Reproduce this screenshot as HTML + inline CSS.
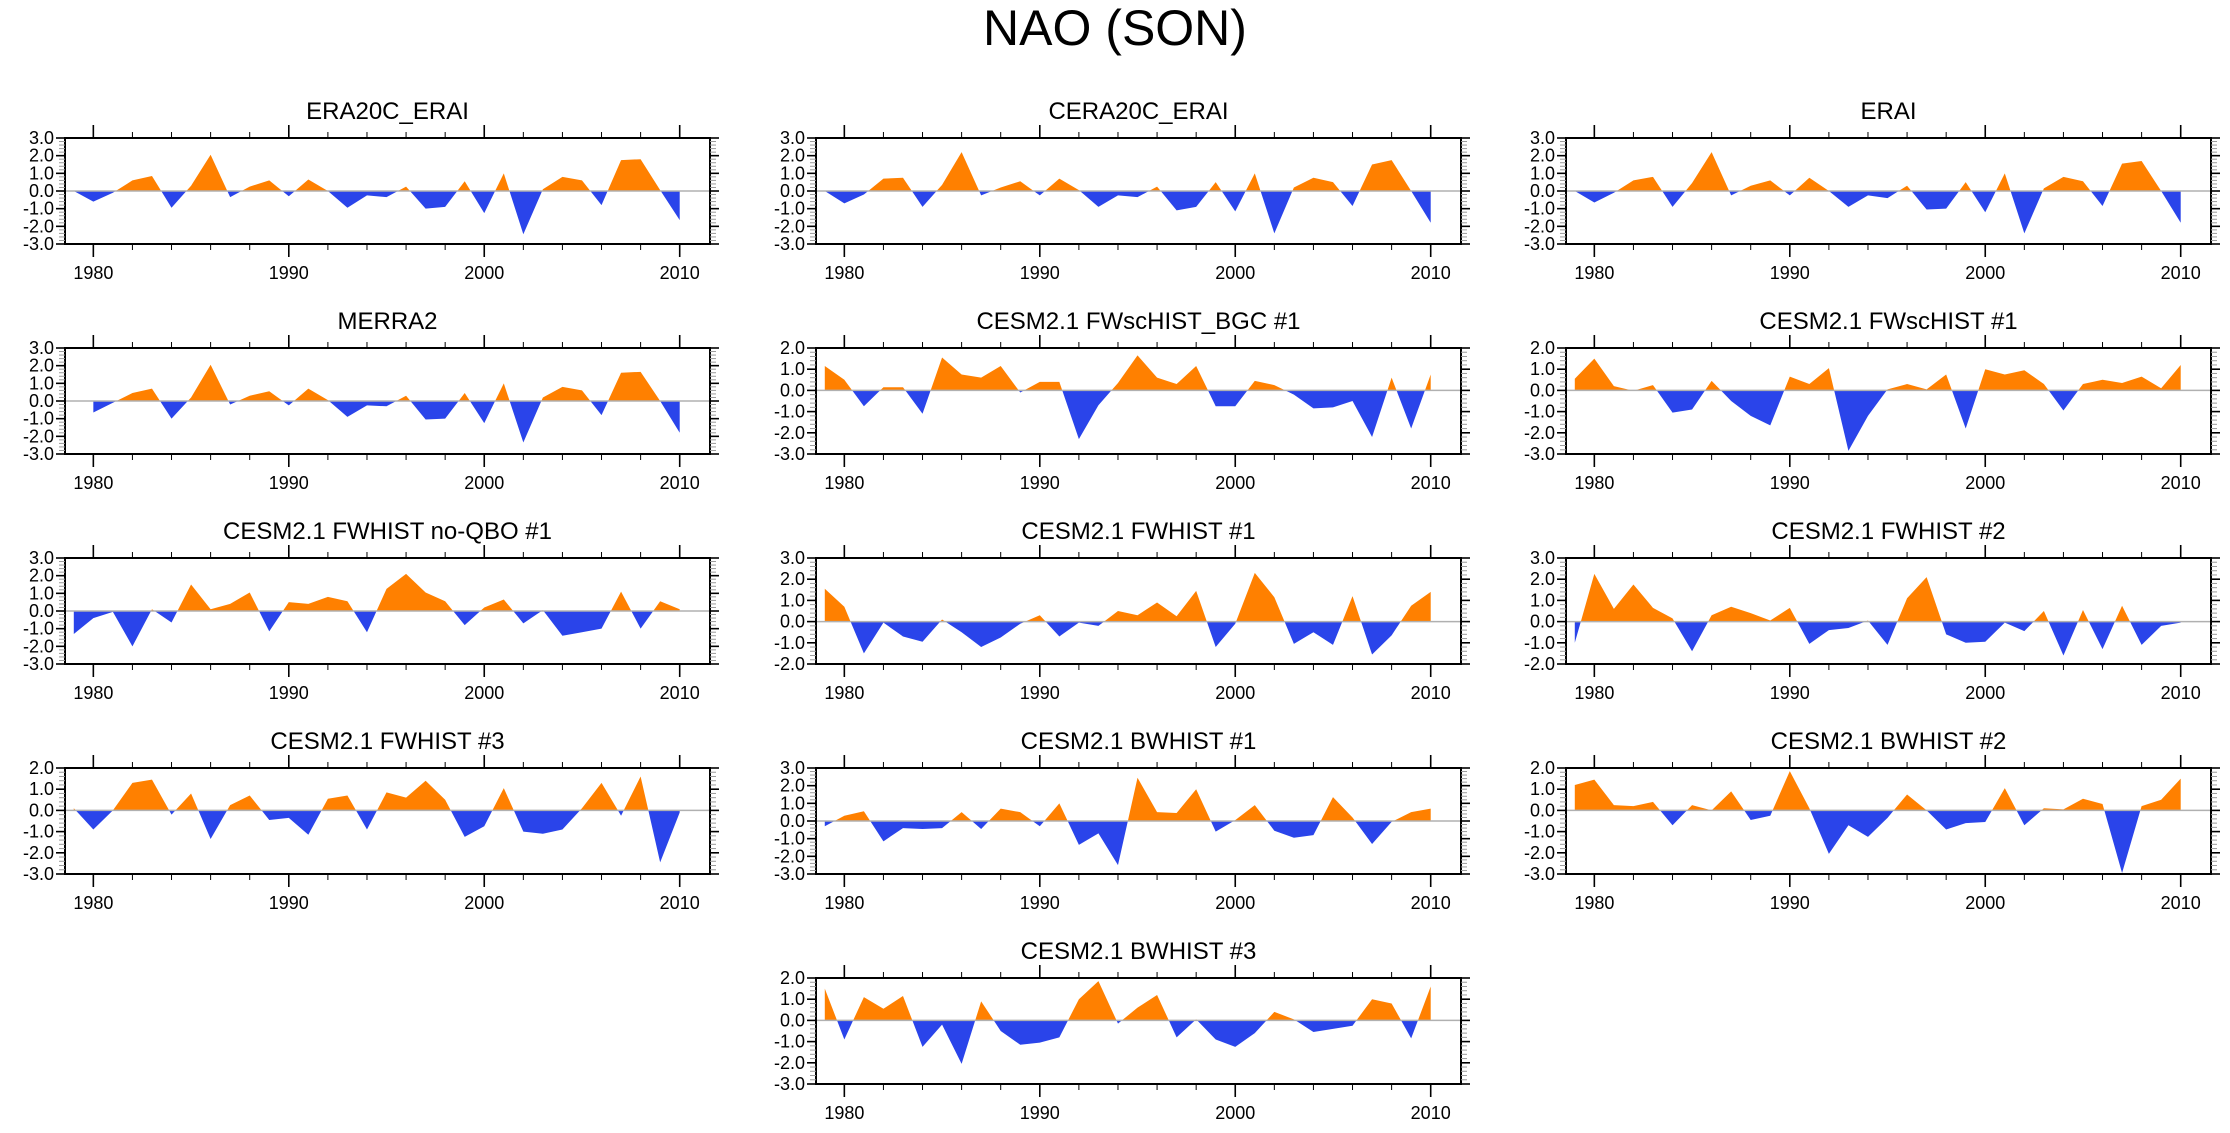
<!DOCTYPE html>
<html><head><meta charset="utf-8"><title>NAO (SON)</title>
<style>
html,body{margin:0;padding:0;background:#fff;}
svg{display:block;font-family:"Liberation Sans",sans-serif;}
</style></head>
<body>
<svg id="chart" width="2230" height="1133" viewBox="0 0 2230 1133" xmlns="http://www.w3.org/2000/svg">
<rect x="0" y="0" width="2230" height="1133" fill="#fff"/>
<text x="1115" y="32" font-size="50" text-anchor="middle" dominant-baseline="middle">NAO (SON)</text>
</svg>
<script>
const titles = ["ERA20C_ERAI","CERA20C_ERAI","ERAI","MERRA2","CESM2.1 FWscHIST_BGC #1","CESM2.1 FWscHIST #1","CESM2.1 FWHIST no-QBO #1","CESM2.1 FWHIST #1","CESM2.1 FWHIST #2","CESM2.1 FWHIST #3","CESM2.1 BWHIST #1","CESM2.1 BWHIST #2","CESM2.1 BWHIST #3"];
const startYears = [1979,1979,1979,1980,1979,1979,1979,1979,1979,1979,1979,1979,1979];
const yMins = [-3,-3,-3,-3,-3,-3,-3,-2,-2,-3,-3,-3,-3];
const yMaxs = [3,3,3,3,2,2,3,3,3,2,3,2,2];
const xTickLabels = [1980,1990,2000,2010];
const sEra20c = [0,-0.6,-0.1,0.6,0.85,-0.95,0.3,2.05,-0.35,0.25,0.6,-0.3,0.65,0.0,-0.95,-0.25,-0.35,0.25,-1.0,-0.9,0.55,-1.25,1.0,-2.45,0.1,0.8,0.6,-0.8,1.75,1.8,0.05,-1.65];
const sCera20c = [0,-0.7,-0.2,0.7,0.75,-0.9,0.35,2.2,-0.25,0.2,0.55,-0.25,0.7,0.05,-0.9,-0.25,-0.35,0.25,-1.1,-0.9,0.5,-1.15,1.0,-2.4,0.2,0.75,0.5,-0.85,1.5,1.75,0.0,-1.8];
const sErai = [0,-0.65,-0.1,0.6,0.8,-0.9,0.45,2.2,-0.25,0.3,0.6,-0.25,0.75,0.0,-0.9,-0.25,-0.4,0.3,-1.05,-1.0,0.5,-1.2,1.0,-2.4,0.15,0.8,0.55,-0.85,1.55,1.7,0.0,-1.8];
const sMerra2 = [-0.65,-0.1,0.45,0.7,-1.0,0.2,2.05,-0.2,0.3,0.55,-0.25,0.7,0.05,-0.9,-0.25,-0.3,0.3,-1.05,-1.0,0.45,-1.25,1.0,-2.35,0.2,0.8,0.6,-0.8,1.6,1.65,0.0,-1.8];
const sFWscBGC1 = [1.15,0.5,-0.75,0.15,0.15,-1.1,1.55,0.75,0.6,1.15,-0.1,0.4,0.4,-2.3,-0.7,0.35,1.65,0.6,0.3,1.15,-0.75,-0.75,0.45,0.25,-0.2,-0.85,-0.8,-0.5,-2.2,0.6,-1.8,0.75];
const sFWsc1 = [0.55,1.5,0.2,-0.02,0.25,-1.05,-0.9,0.45,-0.5,-1.2,-1.65,0.65,0.3,1.05,-2.85,-1.2,0.05,0.3,0.05,0.75,-1.8,1.0,0.75,0.95,0.3,-0.95,0.3,0.5,0.35,0.65,0.1,1.2];
const sFWnoQBO1 = [-1.3,-0.4,-0.05,-2.0,0.1,-0.65,1.5,0.1,0.4,1.05,-1.15,0.5,0.4,0.8,0.55,-1.2,1.25,2.1,1.05,0.55,-0.8,0.2,0.65,-0.7,0.05,-1.4,-1.2,-1.0,1.1,-1.0,0.55,0.1];
const sFW1 = [1.55,0.7,-1.5,-0.05,-0.7,-0.95,0.1,-0.5,-1.2,-0.75,-0.1,0.3,-0.7,-0.05,-0.2,0.5,0.3,0.9,0.25,1.45,-1.2,-0.1,2.3,1.15,-1.05,-0.5,-1.1,1.2,-1.55,-0.65,0.75,1.4];
const sFW2 = [-1.0,2.25,0.6,1.75,0.65,0.15,-1.4,0.3,0.7,0.4,0.05,0.65,-1.05,-0.4,-0.3,0.05,-1.1,1.1,2.1,-0.6,-1.0,-0.95,-0.05,-0.45,0.5,-1.6,0.55,-1.3,0.75,-1.1,-0.2,-0.05];
const sFW3 = [0.1,-0.9,0.0,1.3,1.45,-0.2,0.8,-1.35,0.25,0.7,-0.45,-0.35,-1.15,0.55,0.7,-0.9,0.85,0.6,1.4,0.5,-1.25,-0.75,1.05,-1.0,-1.1,-0.9,0.1,1.3,-0.25,1.6,-2.45,-0.1];
const sBW1 = [-0.3,0.3,0.55,-1.15,-0.4,-0.45,-0.4,0.5,-0.45,0.7,0.5,-0.3,1.0,-1.35,-0.7,-2.5,2.45,0.5,0.45,1.8,-0.6,0.05,0.9,-0.55,-0.95,-0.8,1.35,0.2,-1.3,-0.05,0.5,0.7];
const sBW2 = [1.2,1.45,0.25,0.2,0.4,-0.7,0.25,0.0,0.9,-0.45,-0.25,1.85,0.1,-2.05,-0.7,-1.25,-0.35,0.75,0.0,-0.9,-0.6,-0.55,1.05,-0.7,0.1,0.05,0.55,0.3,-2.95,0.2,0.5,1.5];
const sBW3 = [1.5,-0.9,1.1,0.55,1.15,-1.25,-0.2,-2.05,0.9,-0.5,-1.15,-1.05,-0.8,1.0,1.85,-0.15,0.6,1.2,-0.8,0.05,-0.9,-1.25,-0.6,0.4,0.05,-0.55,-0.4,-0.25,1.0,0.8,-0.85,1.6];
const seriesList = [sEra20c,sCera20c,sErai,sMerra2,sFWscBGC1,sFWsc1,sFWnoQBO1,sFW1,sFW2,sFW3,sBW1,sBW2,sBW3];

const NS = "http://www.w3.org/2000/svg";
const svg = document.getElementById('chart');
const colX = [65, 816, 1566];
const rowY = [138, 348, 558, 768, 978];
const BW = 645, BH = 106;
const X0 = 1978.55, X1 = 2011.55;
const slots = [[0,0],[0,1],[0,2],[1,0],[1,1],[1,2],[2,0],[2,1],[2,2],[3,0],[3,1],[3,2],[4,1]];

function mk(tag, attrs, parent){
  const e = document.createElementNS(NS, tag);
  for (const k in attrs) e.setAttribute(k, attrs[k]);
  parent.appendChild(e);
  return e;
}
function slug(s){return s.toLowerCase().replace(/[^a-z0-9]+/g,'-').replace(/^-|-$/g,'');}

seriesList.forEach((vals, i) => {
  const [r, c] = slots[i];
  const bx = colX[c], by = rowY[r];
  const ymin = yMins[i], ymax = yMaxs[i];
  const xs = y => bx + (y - X0) / (X1 - X0) * BW;
  const ys = v => by + (ymax - v) / (ymax - ymin) * BH;
  const g = mk('g', {}, svg);
  
  

  const t = mk('text', {x: bx + BW/2, y: by - 19, 'font-size': 24, 'text-anchor': 'middle'}, g);
  t.textContent = titles[i];
  
  

  const pts = [];
  for (let k = 0; k < vals.length; k++) {
    const yr = startYears[i] + k, v = vals[k];
    if (k > 0) {
      const pv = vals[k-1];
      if ((pv > 0 && v < 0) || (pv < 0 && v > 0)) {
        const f = pv / (pv - v);
        pts.push([yr - 1 + f, 0]);
      }
    }
    pts.push([yr, v]);
  }
  const first = pts[0][0], last = pts[pts.length-1][0];
  function poly(fn){
    let d = 'M' + xs(first) + ',' + ys(0);
    pts.forEach(p => { d += ' L' + xs(p[0]).toFixed(2) + ',' + ys(fn(p[1])).toFixed(2); });
    d += ' L' + xs(last) + ',' + ys(0) + ' Z';
    return d;
  }
  const pos = mk('path', {d: poly(v => Math.max(0, v)), fill: '#ff8000'}, g);
  
  
  const neg = mk('path', {d: poly(v => Math.min(0, v)), fill: '#2a44ea'}, g);
  
  

  const zl = mk('line', {x1: bx, x2: bx + BW, y1: ys(0), y2: ys(0), stroke: '#b0b0b0', 'stroke-width': 1.5}, g);
  
  

  const box = mk('rect', {x: bx, y: by, width: BW, height: BH, fill: 'none', stroke: '#000', 'stroke-width': 2}, g);
  
  

  for (let yr = 1980; yr <= 2010; yr += 2) {
    const major = (yr % 10 === 0);
    const L = major ? 13 : 6;
    const x = xs(yr);
    mk('line', {x1: x, x2: x, y1: by, y2: by - L, stroke: '#000', 'stroke-width': major ? 1.6 : 1}, g);
    mk('line', {x1: x, x2: x, y1: by + BH, y2: by + BH + L, stroke: '#000', 'stroke-width': major ? 1.6 : 1}, g);
  }
  xTickLabels.forEach(yr => {
    const tl = mk('text', {x: xs(yr), y: by + BH + 35, 'font-size': 18, 'text-anchor': 'middle'}, g);
    tl.textContent = String(yr);
    
    
  });
  for (let m = Math.round(ymin*5); m <= Math.round(ymax*5); m++) {
    const v = m / 5, y = ys(v);
    const major = (m % 5 === 0);
    const L = major ? 9 : 6;
    const col = major ? '#000' : '#999';
    mk('line', {x1: bx, x2: bx - L, y1: y, y2: y, stroke: col, 'stroke-width': major ? 1.6 : 1}, g);
    mk('line', {x1: bx + BW, x2: bx + BW + L, y1: y, y2: y, stroke: col, 'stroke-width': major ? 1.6 : 1}, g);
    if (major) {
      const yl = mk('text', {x: bx - 11, y: y + 6, 'font-size': 18, 'text-anchor': 'end'}, g);
      yl.textContent = v.toFixed(1);
      
      
    }
  }
});
</script>
</body></html>
